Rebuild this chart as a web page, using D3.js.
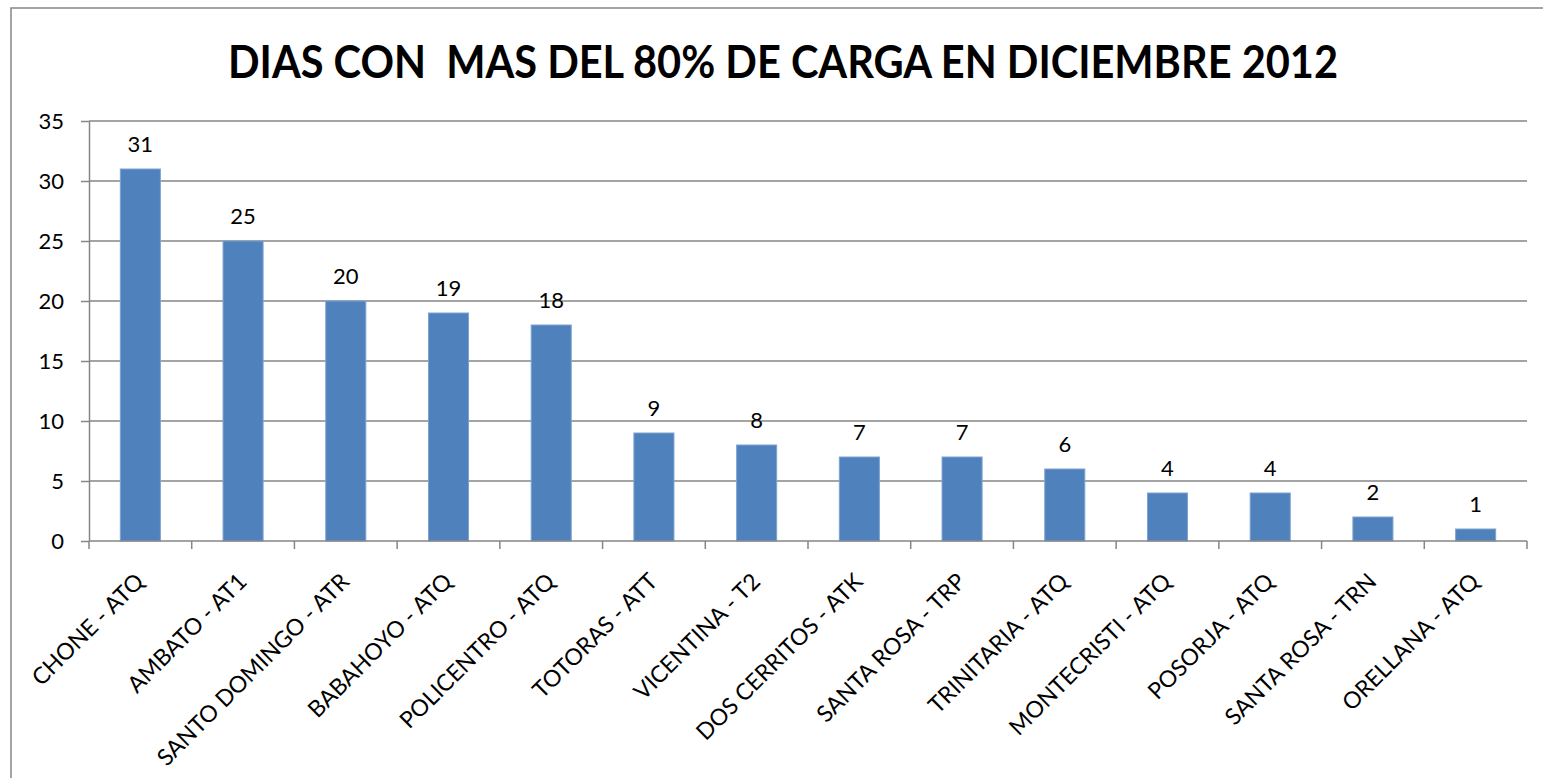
<!DOCTYPE html>
<html>
<head>
<meta charset="utf-8">
<script src="https://cdn.jsdelivr.net/npm/d3@7"></script>
<style>
  body { margin: 0; background: #fff; }
  svg { display: block; font-family: Lato, "Open Sans", sans-serif; }
</style>
</head>
<body>
<script>
// chart data
const categories = ['CHONE - ATQ', 'AMBATO - AT1', 'SANTO DOMINGO - ATR', 'BABAHOYO - ATQ',
  'POLICENTRO - ATQ', 'TOTORAS - ATT', 'VICENTINA - T2', 'DOS CERRITOS - ATK',
  'SANTA ROSA - TRP', 'TRINITARIA - ATQ', 'MONTECRISTI - ATQ', 'POSORJA - ATQ',
  'SANTA ROSA - TRN', 'ORELLANA - ATQ'];
const dias = [31, 25, 20, 19, 18, 9, 8, 7, 7, 6, 4, 4, 2, 1];
const yTicks = [0, 5, 10, 15, 20, 25, 30, 35];
const title = 'DIAS CON  MAS DEL 80% DE CARGA EN DICIEMBRE 2012';

const width = 1543;
const height = 778;
const margin = { top: 121, right: 16, bottom: 237, left: 89 };

const svg = d3.select('body')
  .append('svg')
  .attr('width', width)
  .attr('height', height);

// outer chart border
svg.append('rect')
  .attr('x', 11)
  .attr('y', 8)
  .attr('width', width)
  .attr('height', height)
  .attr('fill', 'none')
  .attr('stroke', '#868686')
  .attr('stroke-width', 1.5);

// title - squeezed a bit to get calibri-like proportions
svg.append('text')
  .attr('x', 783)
  .attr('y', 78)
  .attr('text-anchor', 'middle')
  .attr('font-size', 46)
  .attr('font-weight', 'bold')
  .attr('fill', '#000')
  .attr('textLength', 1110)
  .attr('lengthAdjust', 'spacingAndGlyphs')
  .style('white-space', 'pre')
  .text(title);

// scales
const xScale = d3.scaleBand()
  .domain(categories)
  .range([margin.left, width - margin.right])
  .paddingInner(0.61)
  .paddingOuter(0.305);

const yScale = d3.scaleLinear()
  .domain([0, 35])
  .range([height - margin.bottom, margin.top]);

const step = xScale.step();
const gap = (step - xScale.bandwidth()) / 2;

// y axis
const yAxis = d3.axisLeft(yScale)
  .tickValues(yTicks)
  .tickSize(8)
  .tickPadding(17)
  .tickSizeOuter(0);

const yG = svg.append('g')
  .attr('transform', `translate(${margin.left}, 0)`)
  .call(yAxis);
yG.select('.domain').attr('stroke', '#868686').attr('stroke-width', 1.5);
yG.selectAll('.tick line').attr('stroke', '#868686').attr('stroke-width', 1.5);
yG.selectAll('.tick text')
  .attr('font-size', 22)
  .attr('fill', '#000')
  .attr('font-family', 'Lato, sans-serif');

// gridlines
svg.append('g')
  .selectAll('line')
  .data(yTicks.filter(d => d > 0))
  .join('line')
  .attr('x1', margin.left)
  .attr('x2', width - margin.right)
  .attr('y1', d => yScale(d))
  .attr('y2', d => yScale(d))
  .attr('stroke', '#868686')
  .attr('stroke-width', 1.5);

// bars
svg.append('g')
  .selectAll('rect')
  .data(dias)
  .join('rect')
  .attr('x', (d, i) => xScale(categories[i]))
  .attr('y', d => yScale(d))
  .attr('width', xScale.bandwidth())
  .attr('height', d => yScale(0) - yScale(d))
  .attr('fill', '#4F81BD')
  .attr('stroke', '#7FA3D0')
  .attr('stroke-width', 1);

// value labels
svg.append('g')
  .selectAll('text')
  .data(dias)
  .join('text')
  .attr('x', (d, i) => xScale(categories[i]) + xScale.bandwidth() / 2)
  .attr('y', d => yScale(d) - 17)
  .attr('text-anchor', 'middle')
  .attr('font-size', 22)
  .attr('fill', '#000')
  .text(d => d);

// x axis line and ticks at band edges
const x0 = yScale(0);
svg.append('line')
  .attr('x1', margin.left)
  .attr('x2', width - margin.right)
  .attr('y1', x0)
  .attr('y2', x0)
  .attr('stroke', '#868686')
  .attr('stroke-width', 1.5);

const edges = categories.map(c => xScale(c) - gap).concat([width - margin.right]);
svg.append('g')
  .selectAll('line')
  .data(edges)
  .join('line')
  .attr('x1', d => d)
  .attr('x2', d => d)
  .attr('y1', x0)
  .attr('y2', x0 + 8)
  .attr('stroke', '#868686')
  .attr('stroke-width', 1.5);

// rotated category labels
svg.append('g')
  .selectAll('text')
  .data(categories)
  .join('text')
  .attr('transform', d => {
    const cx = xScale(d) + xScale.bandwidth() / 2 + 5;
    return `translate(${cx}, ${x0 + 42}) rotate(-45)`;
  })
  .attr('text-anchor', 'end')
  .attr('font-size', 23)
  .attr('fill', '#000')
  .text(d => d);
</script>
</body>
</html>
